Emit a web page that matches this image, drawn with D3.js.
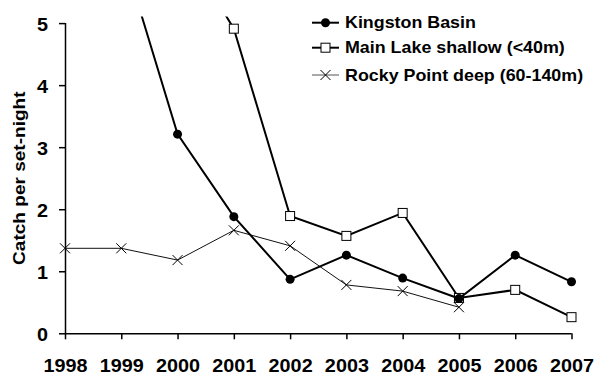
<!DOCTYPE html>
<html>
  <head>
    <style>
      body { margin: 0; background: #fff; }
      text { font-family: 'Liberation Sans', Arial, sans-serif; font-weight: bold; fill: #000; }
      .legend text { font-size: 17px; }
    </style>
  </head>
  <body>
    <script src="https://d3js.org/d3.v7.min.js"></script>
    <script>
      var years = [1998, 1999, 2000, 2001, 2002, 2003, 2004, 2005, 2006, 2007];
      var kingston = [null, 6.2, 3.21, 1.88, 0.87, 1.26, 0.89, 0.56, 1.26, 0.83];
      var mainLake = [null, null, 6.4, 4.91, 1.89, 1.57, 1.94, 0.57, 0.70, 0.26];
      var rocky = [1.37, 1.37, 1.18, 1.66, 1.41, 0.78, 0.68, 0.42, null, null];
      var yTicks = [0, 1, 2, 3, 4, 5];

      var width = 594, height = 375;

      var svg = d3.select("body").append("svg")
        .attr("width", width)
        .attr("height", height);

      var x = d3.scaleLinear().domain([1998, 2007]).range([65, 571.5]);
      var y = d3.scaleLinear().domain([0, 5]).range([333.3, 23.1]);

      svg.append("defs").append("clipPath").attr("id", "plot")
        .append("rect")
        .attr("x", 0).attr("y", 16.5)
        .attr("width", width).attr("height", 340);

      // widen text a bit, the original is rendered stretched
      function stretch(sel, k) {
        sel.each(function() {
          var w = this.getComputedTextLength();
          d3.select(this).attr("textLength", w * k).attr("lengthAdjust", "spacingAndGlyphs");
        });
      }

      // axes
      var yAxis = svg.append("g")
        .attr("transform", "translate(65,0)")
        .call(d3.axisLeft(y).tickValues(yTicks).tickSize(6).tickPadding(11).tickFormat(d3.format("d")));
      var xAxis = svg.append("g")
        .attr("transform", "translate(0," + y(0) + ")")
        .call(d3.axisBottom(x).tickValues(years).tickSize(6).tickPadding(20).tickFormat(d3.format("d")));
      svg.selectAll(".domain").attr("stroke", "#000").attr("stroke-width", 1.5);
      svg.selectAll(".tick line").attr("stroke", "#000").attr("stroke-width", 1.5);
      yAxis.select(".domain").attr("d", "M0.5," + y(5) + "V" + y(0));
      xAxis.select(".domain").attr("d", "M" + x(1998) + ",0.5H" + x(2007));
      svg.selectAll(".tick text")
        .style("font-family", "'Liberation Sans', Arial, sans-serif")
        .style("font-weight", "bold")
        .style("font-size", "18px");
      yAxis.selectAll(".tick text").attr("dy", "0.4em");
      stretch(svg.selectAll(".tick text"), 1.1);

      var yLabel = svg.append("text")
        .attr("transform", "translate(25," + y(2.5) + ") rotate(-90)")
        .attr("text-anchor", "middle")
        .style("font-size", "17px")
        .text("Catch per set-night");
      stretch(yLabel, 1.12);

      var series = [
        { name: "Kingston Basin", values: kingston, width: 2, color: "#000", marker: "circle" },
        { name: "Main Lake shallow (<40m)", values: mainLake, width: 2, color: "#000", marker: "square" },
        { name: "Rocky Point deep (60-140m)", values: rocky, width: 1, color: "#111", marker: "cross" }
      ];

      var line = d3.line()
        .defined(function(d) { return d.v !== null; })
        .x(function(d) { return x(d.year); })
        .y(function(d) { return y(d.v); });

      var plot = svg.append("g").attr("clip-path", "url(#plot)");

      function drawMarker(g, type, cx, cy) {
        if (type === "circle") {
          g.append("circle").attr("cx", cx).attr("cy", cy).attr("r", 4.5).attr("fill", "#000");
        } else if (type === "square") {
          g.append("rect").attr("x", cx - 4.5).attr("y", cy - 4.5).attr("width", 9).attr("height", 9)
            .attr("fill", "#fff").attr("stroke", "#000").attr("stroke-width", 1);
        } else {
          g.append("path")
            .attr("d", "M" + (cx - 5) + "," + (cy - 5) + "L" + (cx + 5) + "," + (cy + 5) +
                       "M" + (cx - 5) + "," + (cy + 5) + "L" + (cx + 5) + "," + (cy - 5))
            .attr("stroke", "#000").attr("stroke-width", 1);
        }
      }

      series.slice().reverse().forEach(function(s) {
        var pts = years.map(function(yr, i) { return { year: yr, v: s.values[i] }; });
        plot.append("path")
          .datum(pts)
          .attr("fill", "none")
          .attr("stroke", s.color)
          .attr("stroke-width", s.width)
          .attr("d", line);
        var mg = plot.append("g");
        pts.forEach(function(p) {
          if (p.v !== null && p.v <= 5.2) drawMarker(mg, s.marker, x(p.year), y(p.v));
        });
      });

      // legend
      var legend = svg.append("g").attr("class", "legend");
      var rowY = [22.7, 47.7, 75];
      series.forEach(function(s, i) {
        var gy = rowY[i];
        legend.append("line")
          .attr("x1", 312).attr("x2", 339).attr("y1", gy).attr("y2", gy)
          .attr("stroke", i === 2 ? "#555" : "#000").attr("stroke-width", s.width);
        drawMarker(legend, s.marker, 325.5, gy);
        legend.append("text")
          .attr("x", 345).attr("y", gy + 5.5)
          .text(s.name);
      });
      stretch(legend.selectAll("text"), 1.05);
    </script>
  </body>
</html>
